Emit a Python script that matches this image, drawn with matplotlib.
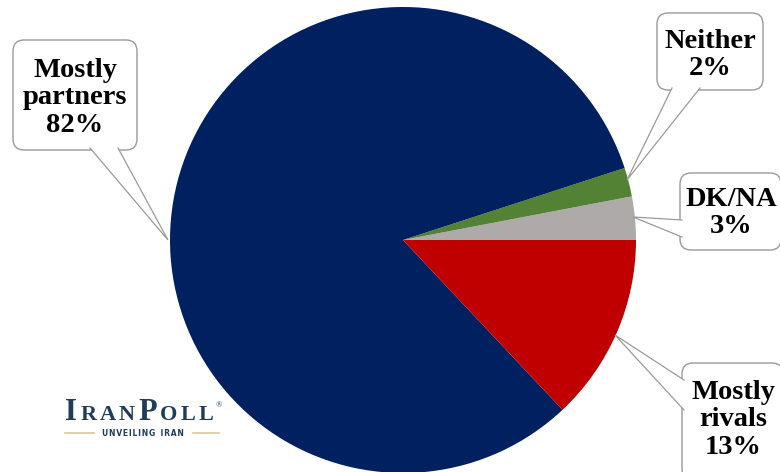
import matplotlib
matplotlib.use("Agg")
import matplotlib.pyplot as plt
from matplotlib.patches import FancyBboxPatch, Polygon

# Survey answers (percent), drawn counter-clockwise from 3 o'clock
categories = ["DK/NA", "Neither", "Mostly partners", "Mostly rivals"]
shares = [3, 2, 82, 13]
labels = ["DK/NA\n3%", "Neither\n2%", "Mostly\npartners\n82%", "Mostly\nrivals\n13%"]
colors = ["#aeaaaa", "#548235", "#002060", "#c00000"]

serif = "Liberation Serif"

fig = plt.figure(figsize=(7.8, 4.72), dpi=100)
ax = fig.add_axes([0, 0, 1, 1])

# y axis runs downwards (pixel-like), so counterclock=False draws visually counter-clockwise
ax.pie(shares, colors=colors, startangle=0, counterclock=False,
       center=(403, 240), radius=233, wedgeprops=dict(linewidth=0))
ax.set_xlim(0, 780)
ax.set_ylim(472, 0)
ax.set_aspect("equal")
ax.axis("off")

edge = "#9a9a9a"


def callout(box, base, tip, text, tx, ty):
    x0, y0, x1, y1 = box
    ax.add_patch(FancyBboxPatch((x0, y0), x1 - x0, y1 - y0,
                                boxstyle="round,pad=0,rounding_size=11",
                                fc="white", ec=edge, lw=1.0, zorder=3,
                                clip_on=False))
    (bx1, by1), (bx2, by2) = base
    ax.add_patch(Polygon([(bx1, by1), tip, (bx2, by2)], closed=True,
                         fc="white", ec="none", zorder=4))
    ax.plot([bx1, tip[0], bx2], [by1, tip[1], by2], color=edge, lw=0.9,
            zorder=5, solid_joinstyle="miter")
    ax.text(tx, ty, text, ha="center", va="center", fontsize=20.5,
            fontweight="bold", family=serif, linespacing=1.12, zorder=6)


# DK/NA
callout((680, 173, 781, 250), ((682, 220), (682, 237)), (633, 217),
        labels[0], 731, 213)
# Neither
callout((657, 13, 763, 90), ((672, 88), (700, 88)), (627, 180),
        labels[1], 710, 55)
# Mostly partners
callout((13, 40, 137, 150), ((90, 148), (118, 148)), (168, 240),
        labels[2], 75, 98)
# Mostly rivals
callout((682, 363, 783, 480), ((684, 380), (684, 410)), (615, 335),
        labels[3], 733, 420)

# IranPoll logo
logo = "#1f3d5a"
fig.canvas.draw()
r = fig.canvas.get_renderer()
x = 65
for ch, fs in [("I", 22), ("R", 16), ("A", 16), ("N", 16),
               ("P", 22), ("O", 16), ("L", 16), ("L", 16)]:
    t = ax.text(x, 420, ch, fontsize=fs, family=serif, color=logo,
                fontweight="bold", ha="left", va="baseline", zorder=6)
    bb = t.get_window_extent(renderer=r)
    x += bb.width + 3.3
ax.text(x - 1, 405, "\u00ae", fontsize=6, family=serif, color=logo,
        ha="left", va="center")
ax.text(143, 433, "\u200a".join("UNVEILING") + "  " + "\u200a".join("IRAN"),
        fontsize=5.5, fontweight="bold", family="DejaVu Sans", color=logo,
        ha="center", va="center")
ax.plot([65, 94], [433, 433], color="#d8c79a", lw=1.2)
ax.plot([193, 219], [433, 433], color="#d8c79a", lw=1.2)

fig.savefig("out.png", dpi=100)
